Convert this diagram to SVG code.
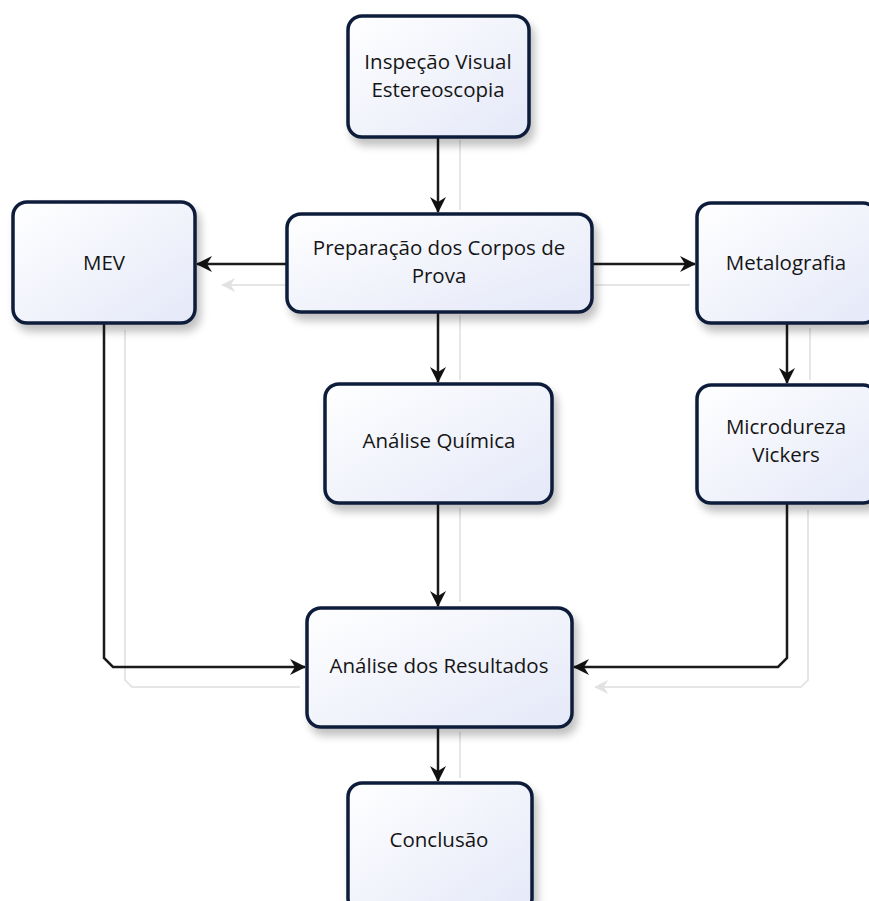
<svg xmlns="http://www.w3.org/2000/svg" width="869" height="901" viewBox="0 0 869 901">
<defs>
<linearGradient id="boxfill" x1="0" y1="0" x2="1" y2="1">
<stop offset="0" stop-color="#ffffff"/>
<stop offset="1" stop-color="#e4e8f8"/>
</linearGradient>
<filter id="shadow" x="-10%" y="-10%" width="125%" height="135%">
<feGaussianBlur in="SourceAlpha" stdDeviation="4"/>
<feOffset dx="4" dy="7" result="b"/>
<feComponentTransfer><feFuncA type="linear" slope="0.25"/></feComponentTransfer>
<feMerge><feMergeNode/><feMergeNode in="SourceGraphic"/></feMerge>
</filter>
<marker id="arr" viewBox="0 0 16 16" refX="15" refY="8" markerWidth="16" markerHeight="16" markerUnits="userSpaceOnUse" orient="auto">
<path d="M0,0 L16,8 L0,16 L5,8 z" fill="#111"/>
</marker>
<marker id="arrg" viewBox="0 0 16 16" refX="15" refY="8" markerWidth="14" markerHeight="14" markerUnits="userSpaceOnUse" orient="auto">
<path d="M0,0 L16,8 L0,16 L5,8 z" fill="#e2e2e2"/>
</marker>
</defs>
<style>
.box{fill:url(#boxfill);stroke:#0f1e3a;stroke-width:3.5;filter:url(#shadow)}
.lbl{font-family:"Open Sans","Noto Sans",sans-serif;font-size:20.5px;fill:#151515;text-anchor:middle}
.con{fill:none;stroke:#1a1a1a;stroke-width:2.5;marker-end:url(#arr)}
.ghost{fill:none;stroke:#e6e6e6;stroke-width:2}
</style>
<rect width="869" height="901" fill="#ffffff"/>
<g id="ghosts">
<path class="ghost" d="M460,140 V210"/>
<path class="ghost" d="M285,285 H222" marker-end="url(#arrg)"/>
<path class="ghost" d="M595,285 H690"/>
<path class="ghost" d="M460,315 V380"/>
<path class="ghost" d="M810,328 V380"/>
<path class="ghost" d="M460,508 V602"/>
<path class="ghost" d="M125,330 V680 L132,687 H300"/>
<path class="ghost" d="M808,510 V680 L801,687 H595" marker-end="url(#arrg)"/>
<path class="ghost" d="M460,732 V778"/>
</g>
<g id="connectors">
<path class="con" d="M438,137 V212"/>
<path class="con" d="M287,264 H197"/>
<path class="con" d="M592,264 H695"/>
<path class="con" d="M438,312 V382"/>
<path class="con" d="M787,323 V383"/>
<path class="con" d="M438,503 V606"/>
<path class="con" d="M104,323 V658 L113,667 H305"/>
<path class="con" d="M787,503 V658 L778,667 H574"/>
<path class="con" d="M438,727 V781"/>
</g>
<g id="inspecao">
<rect class="box" x="348" y="16" width="181" height="121" rx="14"/>
<text class="lbl" x="438" y="69">Inspeção Visual</text>
<text class="lbl" x="438" y="97">Estereoscopia</text>
</g>
<g id="mev">
<rect class="box" x="13" y="202" width="182" height="121" rx="14"/>
<text class="lbl" x="104" y="270">MEV</text>
</g>
<g id="preparacao">
<rect class="box" x="287" y="214" width="305" height="98" rx="14"/>
<text class="lbl" x="439" y="255">Preparação dos Corpos de</text>
<text class="lbl" x="439" y="283">Prova</text>
</g>
<g id="metalografia">
<rect class="box" x="697" y="203" width="180" height="120" rx="14"/>
<text class="lbl" x="786" y="270">Metalografia</text>
</g>
<g id="quimica">
<rect class="box" x="325" y="384" width="227" height="119" rx="14"/>
<text class="lbl" x="439" y="448">Análise Química</text>
</g>
<g id="microdureza">
<rect class="box" x="697" y="385" width="180" height="118" rx="14"/>
<text class="lbl" x="786" y="434">Microdureza</text>
<text class="lbl" x="786" y="462">Vickers</text>
</g>
<g id="resultados">
<rect class="box" x="307" y="608" width="265" height="119" rx="14"/>
<text class="lbl" x="439" y="673">Análise dos Resultados</text>
</g>
<g id="conclusao">
<rect class="box" x="348" y="783" width="184" height="130" rx="14"/>
<text class="lbl" x="439" y="847">Conclusão</text>
</g>
</svg>
